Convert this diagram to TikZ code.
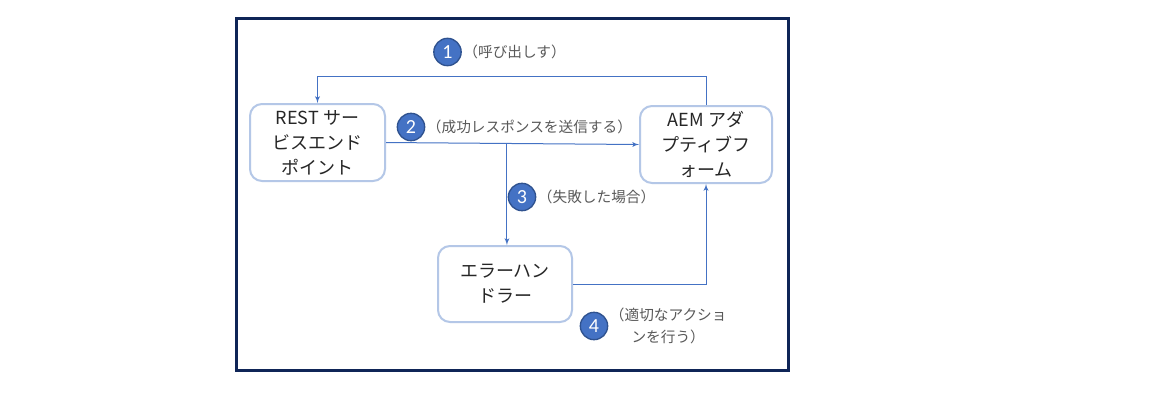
\documentclass[tikz,border=0pt]{standalone}
\usepackage{fontspec}
\setmainfont{Noto Sans CJK JP}
\newfontfamily\badgefont{Carlito}
\usetikzlibrary{positioning}
\usetikzlibrary{shapes, arrows}
\definecolor{frameblue}{HTML}{0F2557}
\definecolor{boxedge}{HTML}{B4C7E7}
\definecolor{linkblue}{HTML}{4472C4}
\definecolor{badgeedge}{HTML}{2F528F}
\definecolor{notegray}{HTML}{595959}

\begin{document}
\begin{tikzpicture}[x=0.75pt, y=-0.75pt, node distance = 1pt, auto]
    \tikzstyle{block} = [rectangle, draw=boxedge, line width=1.5pt, fill=white, 
    rounded corners=9pt, align=center, text=black!85, font=\fontsize{13.5}{18.75}\selectfont, minimum height=57.75pt]
    \tikzstyle{line} = [draw=linkblue, line width=0.75pt, -latex']
    \tikzstyle{badge} = [circle, draw=badgeedge, line width=1pt, fill=linkblue, text=white, 
    minimum size=20.5pt, inner sep=0pt, font=\badgefont\fontsize{15}{15}\selectfont]
    \tikzstyle{note} = [text=notegray, inner sep=0pt, align=center, font=\fontsize{11}{16}\selectfont]
    \useasboundingbox (0,0) rectangle (1152,401);
    \draw [frameblue, line width=2.25pt, fill=white] (236,18) rectangle (788,370);
    \node [block, minimum width=101.25pt] (rest) at (317.5,142.5) {REST サー\\ビスエンド\\ポイント};
    \node [block, minimum width=99pt] (aem) at (706,144.5) {AEM アダ\\プティブフ\\ォーム};
    \node [block, minimum width=100.5pt, minimum height=57pt] (handler) at (505,284) {エラーハン\\ドラー};
    \node [badge] (b1) at (447.5,52) {1};
    \node [note, right=1pt of b1] (n1) {（呼び出しす）};
    \node [badge] (b2) at (411,127) {2};
    \node [note, right=1pt of b2] (n2) {（成功レスポンスを送信する）};
    \node [badge] (b3) at (522,197) {3};
    \node [note, right=1pt of b3] (n3) {（失敗した場合）};
    \node [badge] (b4) at (594,326) {4};
    \node [note, right=1pt of b4] (n4) {（適切なアクショ\\ンを行う）};
    \path [line] (aem.north) -- ++(0,-29) -| (rest.north);
    \path [line] (rest.east) -- (aem.west) coordinate [pos=0.478] (split);
    \path [line] (split) -- (split |- handler.north);
    \path [line] (handler.east) -| (aem.south);
\end{tikzpicture}
\end{document}
